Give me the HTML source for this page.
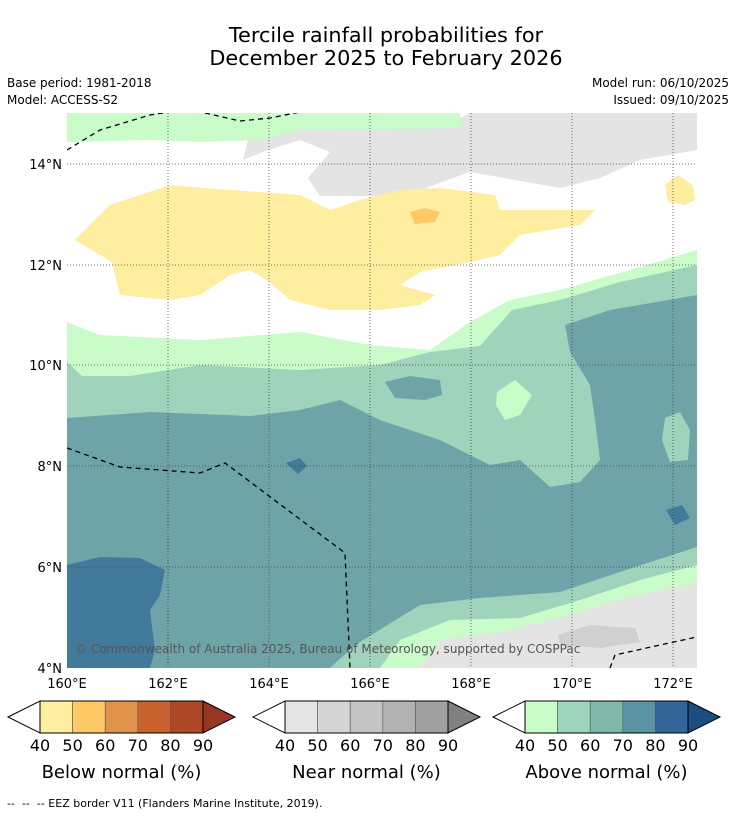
<!DOCTYPE html>
<html><head><meta charset="utf-8"><style>
body{margin:0;background:#fff;font-family:"Liberation Sans","DejaVu Sans",sans-serif;}
svg text{font-family:"DejaVu Sans","Liberation Sans",sans-serif;}
</style></head><body>
<svg id="s" width="736" height="816" viewBox="0 0 736 816">
<text x="386" y="42" font-size="20.8" text-anchor="middle">Tercile rainfall probabilities for</text>
<text x="386" y="65" font-size="20.8" text-anchor="middle">December 2025 to February 2026</text>
<text x="7" y="87" font-size="12">Base period: 1981-2018</text>
<text x="7" y="104" font-size="12">Model: ACCESS-S2</text>
<text x="729" y="87" font-size="12" text-anchor="end">Model run: 06/10/2025</text>
<text x="729" y="104" font-size="12" text-anchor="end">Issued: 09/10/2025</text>
<defs><clipPath id="mc"><rect x="67" y="113" width="631" height="555"/></clipPath></defs>
<g clip-path="url(#mc)">
<rect x="67" y="113" width="631" height="555" fill="#fff"/>
<polygon fill="#e4e4e4" points="243,160 250,132 300,126 460,118 470,113 697,113 697,150 640,160 600,178 560,188 470,172 420,190 400,196 320,196 308,178 330,152 300,140 268,150"/>
<polygon fill="#c9fcc9" points="67,113 460,113 462,128 300,130 260,140 200,142 150,140 67,142"/>
<polygon fill="#ffeda0" points="75,240 110,205 170,185 230,190 300,195 330,210 360,200 400,190 440,188 495,195 500,210 560,210 595,210 580,225 520,235 500,255 470,262 420,272 400,285 435,295 420,305 380,310 330,310 290,300 270,282 250,270 230,275 200,295 170,300 120,295 112,262"/>
<polygon fill="#fec965" points="410,212 425,208 440,212 435,222 415,224"/>
<polygon fill="#ffeda0" points="665,185 678,175 693,185 695,200 685,205 668,202"/>
<polygon fill="#c9fcc9" points="67,322 100,335 200,340 300,332 370,345 430,350 470,322 510,300 560,290 630,270 697,250 697,668 67,668"/>
<polygon fill="#9fd3bb" points="67,362 82,376 130,376 200,365 300,370 380,365 430,352 480,346 512,310 560,300 620,282 697,265 697,668 67,668"/>
<polygon fill="#c9fcc9" points="497,392 515,380 532,395 520,415 505,420 496,405"/>
<polygon fill="#6ea4a8" points="67,418 150,412 250,416 300,410 340,400 380,420 440,440 490,465 520,460 550,487 580,482 600,460 595,420 590,385 570,352 565,325 610,310 697,295 697,668 67,668"/>
<polygon fill="#6ea4a8" points="385,382 410,376 440,380 442,395 425,400 395,398"/>
<polygon fill="#9fd3bb" points="665,418 680,412 690,430 688,460 670,462 662,440"/>
<polygon fill="#417a9b" points="67,565 100,557 140,558 165,570 160,595 150,610 155,650 150,668 67,668"/>
<polygon fill="#417a9b" points="286,463 300,458 307,466 298,474"/>
<polygon fill="#417a9b" points="666,510 682,505 690,518 675,525"/>
<polygon fill="#9fd3bb" points="330,668 355,645 420,605 480,598 560,592 620,572 697,547 697,668"/>
<polygon fill="#c9fcc9" points="380,668 400,640 450,620 520,618 580,600 640,580 697,565 697,668"/>
<polygon fill="#e4e4e4" points="420,668 440,640 500,632 560,618 610,602 660,590 697,583 697,668"/>
<polygon fill="#d0d0d0" points="558,635 590,625 635,628 640,642 600,648 560,645"/>
<g stroke="#444" stroke-width="0.8" stroke-dasharray="1,2">
<line x1="168" y1="113" x2="168" y2="668"/><line x1="269" y1="113" x2="269" y2="668"/><line x1="370" y1="113" x2="370" y2="668"/><line x1="471" y1="113" x2="471" y2="668"/><line x1="572" y1="113" x2="572" y2="668"/><line x1="673" y1="113" x2="673" y2="668"/>
<line x1="67" y1="164" x2="697" y2="164"/><line x1="67" y1="265" x2="697" y2="265"/><line x1="67" y1="365" x2="697" y2="365"/><line x1="67" y1="466" x2="697" y2="466"/><line x1="67" y1="567" x2="697" y2="567"/>
</g>
<g fill="none" stroke="#000" stroke-width="1.3" stroke-dasharray="5,4">
<polyline points="67,150 100,130 150,115 170,112"/>
<polyline points="205,113 240,121 270,118 300,112"/>
<polyline points="67,448 120,467 200,473 225,463 345,553 350,668"/>
<polyline points="610,668 615,655 660,645 697,637"/>
</g>
<text x="75" y="653" font-size="12" fill="#555">© Commonwealth of Australia 2025, Bureau of Meteorology, supported by COSPPac</text>
</g>
<g font-size="13" text-anchor="end">
<text x="62" y="169">14°N</text><text x="62" y="270">12°N</text><text x="62" y="370">10°N</text><text x="62" y="471">8°N</text><text x="62" y="572">6°N</text><text x="62" y="673">4°N</text>
</g>
<g font-size="13" text-anchor="middle">
<text x="67" y="688">160°E</text><text x="168" y="688">162°E</text><text x="269" y="688">164°E</text><text x="370" y="688">166°E</text><text x="471" y="688">168°E</text><text x="572" y="688">170°E</text><text x="673" y="688">172°E</text>
</g>
<g id="bars"></g>
<text x="7" y="807" font-size="11" xml:space="preserve">--  --  -- EEZ border V11 (Flanders Marine Institute, 2019).</text>
</svg>
<script>
const barTitles = ["Below normal (%)", "Near normal (%)", "Above normal (%)"];
const tickLabels = ["40","50","60","70","80","90"];
const belowColors = ["#fff","#ffeda0","#fec965","#e0914a","#c9622e","#ae4726","#973624"];
const nearColors = ["#fff","#e5e5e5","#d5d5d5","#c4c4c4","#b2b2b2","#a0a0a0","#808080"];
const aboveColors = ["#fff","#c8fcc8","#9fd4bc","#80b7ab","#5a93a3","#336699","#1a4d80"];
const NS="http://www.w3.org/2000/svg";
const g=document.getElementById('bars');
const lefts=[8,253,493];
[belowColors,nearColors,aboveColors].forEach((cols,b)=>{
  const x0=lefts[b],tw=32,cw=32.6,y0=701,h=32;
  const bx=x0+tw;
  const grp=document.createElementNS(NS,'g');
  
  
  const lt=document.createElementNS(NS,'polygon');
  lt.setAttribute('points',`${x0},${y0+h/2} ${bx},${y0} ${bx},${y0+h}`);
  lt.setAttribute('fill',cols[0]);lt.setAttribute('stroke','#000');
  grp.appendChild(lt);
  for(let i=1;i<=5;i++){
    const r=document.createElementNS(NS,'rect');
    r.setAttribute('x',bx+(i-1)*cw);r.setAttribute('y',y0);r.setAttribute('width',cw);r.setAttribute('height',h);
    r.setAttribute('fill',cols[i]);r.setAttribute('stroke','#555');r.setAttribute('stroke-width','0.6');
    grp.appendChild(r);
  }
  const ex=bx+5*cw;
  const rt=document.createElementNS(NS,'polygon');
  rt.setAttribute('points',`${ex},${y0} ${ex+tw},${y0+h/2} ${ex},${y0+h}`);
  rt.setAttribute('fill',cols[6]);rt.setAttribute('stroke','#000');
  grp.appendChild(rt);
  const fr=document.createElementNS(NS,'rect');
  fr.setAttribute('x',bx);fr.setAttribute('y',y0);fr.setAttribute('width',5*cw);fr.setAttribute('height',h);
  fr.setAttribute('fill','none');fr.setAttribute('stroke','#000');
  grp.appendChild(fr);
  tickLabels.forEach((t,i)=>{
    const tx=document.createElementNS(NS,'text');
    
    
    tx.setAttribute('x',bx+i*cw);tx.setAttribute('y',751);tx.setAttribute('font-size','16');tx.setAttribute('text-anchor','middle');
    tx.textContent=t;grp.appendChild(tx);
  });
  const tt=document.createElementNS(NS,'text');
  
  
  tt.setAttribute('x',bx+2.5*cw);tt.setAttribute('y',778);tt.setAttribute('font-size','18');tt.setAttribute('text-anchor','middle');
  tt.textContent=barTitles[b];grp.appendChild(tt);
  g.appendChild(grp);
});
</script>
</body></html>
